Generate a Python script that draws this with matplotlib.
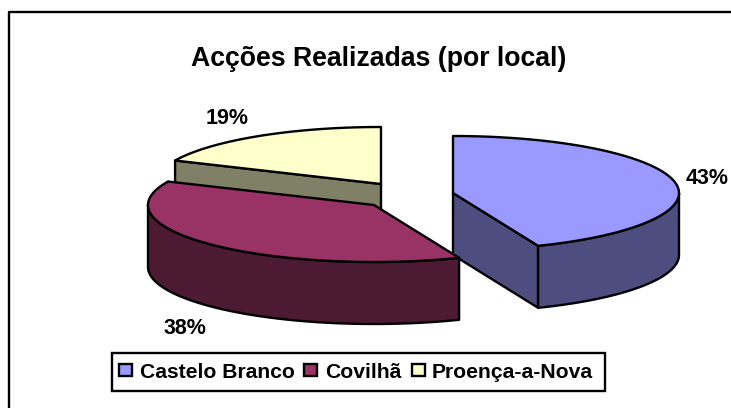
import numpy as np
import matplotlib
matplotlib.use("Agg")
import matplotlib.pyplot as plt

plt.rcParams['font.family'] = ['Liberation Sans', 'DejaVu Sans']

# data
categories = ['Castelo Branco', 'Covilhã', 'Proença-a-Nova']
values = [43, 38, 19]
top_colors = ['#9999FF', '#993366', '#FFFFCC']
side_colors = ['#4D4D80', '#4D1A33', '#808066']
title = 'Acções Realizadas (por local)'

# pie geometry in pixels (exploded centres)
centers = [(453, 193), (374, 205), (381, 184)]
semi_a = 226
semi_b = 57
depth = 62
warp = 4.0  # perspective skew of the angles, degrees
label_pos = [(707, 179), (185, 329), (227, 119)]
legend_swatch_x = [119, 304, 412]
legend_text_x = [140, 325, 432]

LW = 1.7


def arc(cx, cy, t0, t1, n=120):
    t = np.radians(np.linspace(t0, t1, n))
    t = t - np.radians(warp) * np.sin(2 * t)
    return cx + semi_a * np.sin(t), cy - semi_b * np.cos(t)


def poly(ax, xs, ys, color, z):
    ax.fill(xs, ys, facecolor=color, edgecolor='black', linewidth=LW, zorder=z, joinstyle='round')


fig = plt.figure(figsize=(7.31, 4.08), dpi=100)
ax = fig.add_axes([0, 0, 1, 1])
ax.set_xlim(0, 731)
ax.set_ylim(408, 0)
ax.axis('off')

# frame, only left and top reach into the picture
ax.plot([9, 9, 731], [408, 12, 12], color='black', linewidth=LW, zorder=0)

total = sum(values)
edges = np.concatenate([[0], np.cumsum(values) / total * 360])

# yellow slice goes first, it sits behind the others
cx, cy = centers[2]
t0, t1 = edges[2], edges[3]
x0, y0 = arc(cx, cy, t0, t0, 1)
poly(ax, [cx, x0[0], x0[0], cx], [cy, y0[0], y0[0] + depth, cy + depth], side_colors[2], 1)
xs, ys = arc(cx, cy, t0, t1)
poly(ax, np.r_[cx, xs], np.r_[cy, ys], top_colors[2], 2)

# blue slice
cx, cy = centers[0]
t0, t1 = edges[0], edges[1]
x1, y1 = arc(cx, cy, t1, t1, 1)
poly(ax, [cx, x1[0], x1[0], cx], [cy, y1[0], y1[0] + depth, cy + depth], side_colors[0], 3)
xs, ys = arc(cx, cy, 90, t1)
poly(ax, np.r_[xs, xs[::-1]], np.r_[ys, ys[::-1] + depth], side_colors[0], 3)
xs, ys = arc(cx, cy, t0, t1)
poly(ax, np.r_[cx, xs], np.r_[cy, ys], top_colors[0], 4)

# red slice is in front
cx, cy = centers[1]
t0, t1 = edges[1], edges[2]
xs, ys = arc(cx, cy, t0, 270)
poly(ax, np.r_[xs, xs[::-1]], np.r_[ys, ys[::-1] + depth], side_colors[1], 5)
xs, ys = arc(cx, cy, t0, t1)
poly(ax, np.r_[cx, xs], np.r_[cy, ys], top_colors[1], 6)

# text
ax.text(379, 58.5, title, ha='center', va='center', fontsize=19.2, fontweight='bold', zorder=10)
for v, (lx, ly) in zip(values, label_pos):
    ax.text(lx, ly, f'{v:.0f}%', ha='center', va='center', fontsize=15.5, fontweight='bold', zorder=10)

# legend
ax.add_patch(plt.Rectangle((112, 353), 493, 38, facecolor='white', edgecolor='black', linewidth=LW, zorder=7))
for name, col, sx, tx in zip(categories, top_colors, legend_swatch_x, legend_text_x):
    ax.add_patch(plt.Rectangle((sx, 364), 13, 12, facecolor=col, edgecolor='black', linewidth=LW, zorder=8))
    ax.text(tx, 373, name, ha='left', va='center', fontsize=15.2, fontweight='bold', zorder=10)

fig.savefig('out.png', dpi=100)
